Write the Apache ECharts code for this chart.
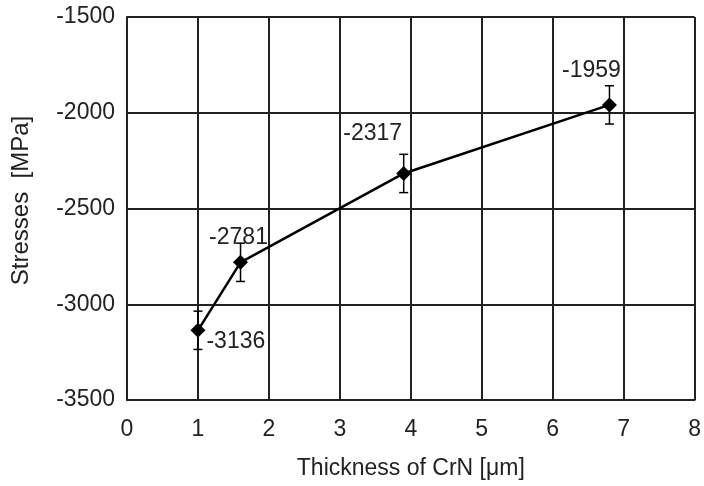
<!DOCTYPE html>
<html><head><meta charset="utf-8">
<script src="https://cdn.jsdelivr.net/npm/echarts@6/dist/echarts.min.js"></script>
<style>html,body{margin:0;padding:0;background:#fff}#c{width:704px;height:486px}</style>
</head><body><div id="c"></div>
<script>
const thickness = [1.0, 1.6, 3.9, 6.8];
const stresses = [-3136, -2781, -2317, -1959];
const errLow = [-3236, -2881, -2417, -2059];
const errHigh = [-3036, -2681, -2217, -1859];
const labelPos = ['right', 'top', 'top', 'top'];

const chart = echarts.init(document.getElementById('c'));
const font = 'Liberation Sans, Arial, sans-serif';
const offs = [[-4, 11], [-2, -1], [-31, -16], [-18, -10]];
const pts = thickness.map((x, i) => ({
  value: [x, stresses[i]],
  label: {
    show: true,
    position: labelPos[i],
    formatter: String(stresses[i]),
    offset: offs[i]
  }
}));
chart.setOption({
  animation: false,
  grid: { left: 127, right: 6, top: 17, bottom: 86 },
  xAxis: {
    type: 'value', min: 0, max: 8, interval: 1,
    name: 'Thickness of CrN [μm]', nameLocation: 'middle', nameGap: 57,
    nameTextStyle: { fontFamily: font, fontSize: 23, color: '#222' },
    axisLine: { show: true, lineStyle: { color: '#222', width: 2 } },
    axisTick: { show: false },
    axisLabel: { margin: 18, fontFamily: font, fontSize: 23, color: '#222' },
    splitLine: { show: true, lineStyle: { color: '#222', width: 2 } }
  },
  yAxis: {
    type: 'value', min: -3500, max: -1500, interval: 500,
    name: 'Stresses  [MPa]', nameLocation: 'middle', nameGap: 94,
    nameTextStyle: { fontFamily: font, fontSize: 24, color: '#222', padding: [0, 0, 0, 16] },
    axisLine: { show: true, lineStyle: { color: '#222', width: 2 } },
    axisTick: { show: false },
    axisLabel: { margin: 12, fontFamily: font, fontSize: 23, color: '#222', formatter: v => String(v) },
    splitLine: { show: true, lineStyle: { color: '#222', width: 2 } }
  },
  series: [
    {
      type: 'line', data: pts, symbol: 'diamond', symbolSize: 15,
      lineStyle: { color: '#000', width: 2.5 }, itemStyle: { color: '#000' },
      label: { fontFamily: font, fontSize: 23, color: '#222' }, z: 5
    },
    {
      type: 'custom',
      data: thickness.map((x, i) => [x, errLow[i], errHigh[i]]),
      renderItem: function (params, api) {
        const lo = api.coord([api.value(0), api.value(1)]);
        const hi = api.coord([api.value(0), api.value(2)]);
        const w = 4.5;
        const st = { stroke: '#000', lineWidth: 1.5 };
        return { type: 'group', children: [
          { type: 'line', shape: { x1: lo[0], y1: lo[1], x2: hi[0], y2: hi[1] }, style: st },
          { type: 'line', shape: { x1: lo[0]-w, y1: lo[1], x2: lo[0]+w, y2: lo[1] }, style: st },
          { type: 'line', shape: { x1: hi[0]-w, y1: hi[1], x2: hi[0]+w, y2: hi[1] }, style: st }
        ]};
      }, z: 4
    }
  ]
});
</script></body></html>
